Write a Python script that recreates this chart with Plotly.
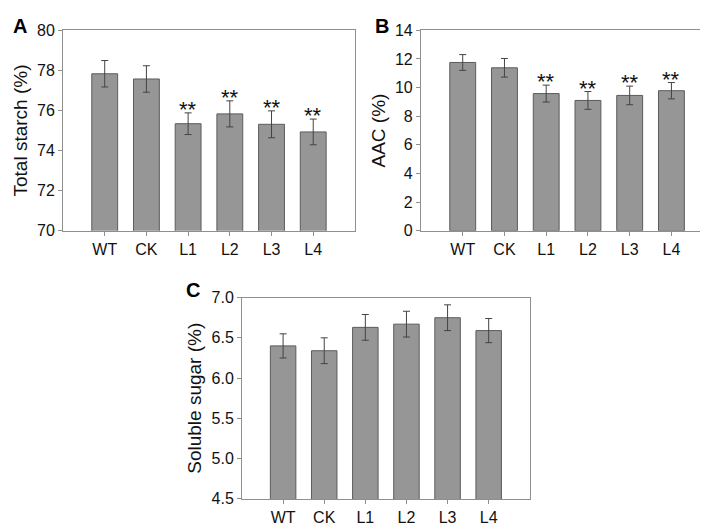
import plotly.graph_objects as go

categories = ["WT", "CK", "L1", "L2", "L3", "L4"]

starch_mean = [77.83, 77.57, 75.34, 75.83, 75.31, 74.93]
starch_err = [0.66, 0.66, 0.54, 0.65, 0.67, 0.64]
starch_sig = ["", "", "**", "**", "**", "**"]

aac_mean = [11.75, 11.38, 9.58, 9.10, 9.45, 9.78]
aac_err = [0.55, 0.65, 0.59, 0.62, 0.65, 0.57]
aac_sig = ["", "", "**", "**", "**", "**"]

sugar_mean = [6.40, 6.34, 6.63, 6.67, 6.75, 6.59]
sugar_err = [0.15, 0.16, 0.16, 0.16, 0.16, 0.15]

FONT = "Liberation Sans, Arial, sans-serif"
BAR = "#969696"
EDGE = "#5c5c5c"
FRAME = "#8f8f8f"

fig = go.Figure()

panels = [
    ("x", "y", starch_mean, starch_err, starch_sig),
    ("x2", "y2", aac_mean, aac_err, aac_sig),
    ("x3", "y3", sugar_mean, sugar_err, None),
]

for xa, ya, m, e, sig in panels:
    fig.add_trace(go.Bar(
        x=categories, y=m, xaxis=xa, yaxis=ya,
        marker=dict(color=BAR, line=dict(color=EDGE, width=1)),
        width=0.62,
        error_y=dict(type="data", array=e, visible=True, color="#444444",
                     thickness=1, width=3.5),
        showlegend=False,
    ))
    if sig:
        for c, mv, ev, s in zip(categories, m, e, sig):
            if s:
                fig.add_annotation(x=c, y=mv + ev, xref=xa, yref=ya, text=s,
                                   showarrow=False, yanchor="bottom",
                                   yshift=-11,
                                   font=dict(family=FONT, size=22, color="#111111"))

def xaxis_style(domain, anchor):
    return dict(domain=domain, anchor=anchor, range=[-1, 6], type="category",
                showline=True, linecolor=FRAME, linewidth=1, mirror=True,
                ticks="outside", ticklen=4, tickcolor=FRAME,
                tickfont=dict(family=FONT, size=16, color="#111111"),
                showgrid=False, zeroline=False, fixedrange=True)

def yaxis_style(domain, anchor, rng, dtick, title, fmt):
    return dict(domain=domain, anchor=anchor, range=rng, dtick=dtick,
                tick0=rng[0], tickformat=fmt,
                showline=True, linecolor=FRAME, linewidth=1, mirror=True,
                ticks="outside", ticklen=4, tickcolor=FRAME,
                tickfont=dict(family=FONT, size=16, color="#111111"),
                title=dict(text=title, font=dict(family=FONT, size=19, color="#111111"),
                           standoff=4),
                showgrid=False, zeroline=False, fixedrange=True)

fig.update_layout(
    width=708, height=526,
    margin=dict(l=0, r=0, t=0, b=0),
    paper_bgcolor="white", plot_bgcolor="white",
    bargap=0.38,
    xaxis=xaxis_style([0.0777, 0.490], "y"),
    yaxis=yaxis_style([0.578, 0.972], "x", [70, 80], 2, "Total starch (%)", "d"),
    xaxis2=xaxis_style([0.5833, 0.996], "y2"),
    yaxis2=yaxis_style([0.578, 0.972], "x2", [0, 14], 2, "AAC (%)", "d"),
    xaxis3=xaxis_style([0.3305, 0.737], "y3"),
    yaxis3=yaxis_style([0.0513, 0.4468], "x3", [4.5, 7.0], 0.5, "Soluble sugar (%)", ".1f"),
)

for txt, xp, yp in [("A", 0.004, 1.0), ("B", 0.515, 1.0), ("C", 0.248, 0.482)]:
    fig.add_annotation(text=txt, x=xp, y=yp, xref="paper", yref="paper",
                       xanchor="left", yanchor="top", showarrow=False, yshift=3,
                       font=dict(family=FONT, size=20, color="#000000", weight="bold"))

fig.write_html("out.html")
